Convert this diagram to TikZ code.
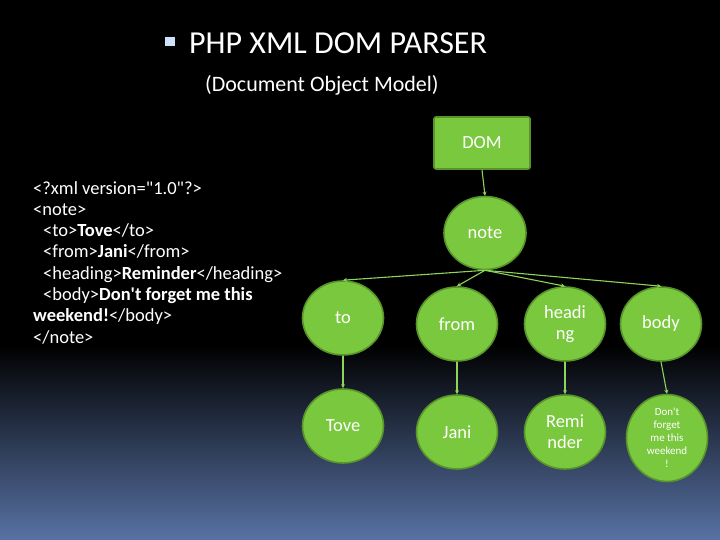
\documentclass[tikz,border=0pt]{standalone}
\usepackage{fontspec}
\setmainfont{Carlito}
\usetikzlibrary{shapes.geometric,arrows.meta}

\definecolor{foglia}{RGB}{122,200,62}
\definecolor{bordo}{RGB}{88,148,42}
\definecolor{linea}{RGB}{140,212,90}
\definecolor{fondo}{RGB}{88,114,164}
\definecolor{quadratino}{RGB}{205,226,246}

\tikzset{
  elemento/.style={draw=bordo, line width=1.6pt, fill=foglia, ellipse,
    minimum width=81pt, minimum height=74pt, inner sep=1pt,
    text=white, align=center, font=\fontsize{18.5}{21}\selectfont},
  freccia/.style={draw=linea, line width=1.1pt, -{Stealth[length=4pt,width=4pt]}},
}

\begin{document}
\begin{tikzpicture}[x=1pt,y=-1pt]
% Definisci le variabili
\def\rigaA{324}   % altezza dei figli di note
\def\rigaB{432}   % altezza dei nipoti

% Sfondo: nero sopra, sfumato verso il blu in basso
\useasboundingbox (0,0) rectangle (720,540);
\fill[black] (0,0) rectangle (720,346);
\shade[top color=black, bottom color=fondo] (0,345) rectangle (720,540);

% Titolo
\fill[quadratino] (165,37) rectangle (175,46);
\node[anchor=west, text=white, inner sep=0pt, font=\fontsize{32}{34}\selectfont] (titolo) at (189,43) {PHP XML DOM PARSER};
\node[anchor=west, text=white, inner sep=0pt, font=\fontsize{22}{24}\selectfont] (sottotitolo) at (205,85) {(Document Object Model)};

% Il file XML
\node[anchor=north west, text=white, inner sep=0pt, align=left,
  font=\fontsize{18.5}{21.3}\selectfont] (codice) at (33,181) {%
<?xml version=\textquotedbl 1.0\textquotedbl ?>\\
<note>\\
\hspace*{10pt}<to>\textbf{Tove}</to>\\
\hspace*{10pt}<from>\textbf{Jani}</from>\\
\hspace*{10pt}<heading>\textbf{Reminder}</heading>\\
\hspace*{10pt}<body>\textbf{Don\textquotesingle t forget me this}\\
\textbf{weekend!}</body>\\
</note>};

% L'albero DOM
\node[draw=bordo, fill=foglia, line width=1.6pt, rounded corners=2pt,
  minimum width=96pt, minimum height=52pt, text=white,
  font=\fontsize{18.5}{21}\selectfont] (dom) at (482,143) {DOM};
\node[elemento, minimum width=82pt, minimum height=73pt] (note) at (485,233) {note};

\node[elemento] (to) at (343,318) {to};
\node[elemento] (from) at (457,\rigaA) {from};
\node[elemento] (heading) at (565,\rigaA) {headi\\ng};
\node[elemento] (body) at (661,\rigaA) {body};

\node[elemento] (tove) at (343,426) {Tove};
\node[elemento] (jani) at (457,\rigaB) {Jani};
\node[elemento] (reminder) at (565,\rigaB) {Remi\\nder};
\node[elemento, font=\fontsize{11}{13}\selectfont] (testo) at (667,438) {Don\textquotesingle t\\forget\\me this\\weekend\\!};

% Le frecce
\draw[freccia] (dom.south) -- (note.north);
\foreach \figlio in {to,from,heading,body}
  \draw[freccia] (note.south) -- (\figlio.north);
\draw[freccia] (to.south) -- (tove.north);
\draw[freccia] (from.south) -- (jani.north);
\draw[freccia] (heading.south) -- (reminder.north);
\draw[freccia] (body.south) -- (testo.north);

\end{tikzpicture}
\end{document}
